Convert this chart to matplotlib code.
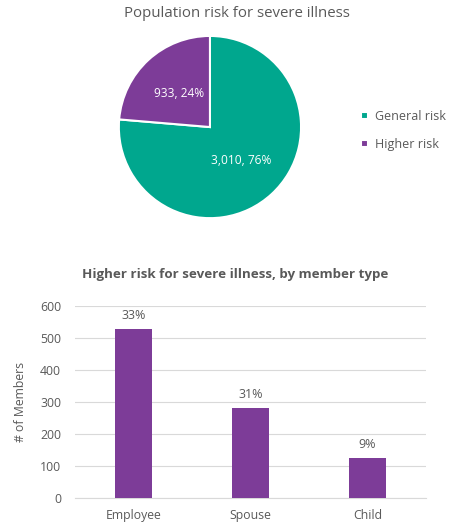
import matplotlib.pyplot as plt

plt.rcParams['font.family'] = ['Open Sans', 'DejaVu Sans']

# datos del pastel
riesgo_labels = ['General risk', 'Higher risk']
riesgo_valores = [3010, 933]

# datos de las barras
tipos_miembro = ['Employee', 'Spouse', 'Child']
miembros_riesgo = [527, 282, 124]
pct_riesgo = ['33%', '31%', '9%']

verde = '#00A78E'
morado = '#7D3C98'
gris_texto = '#595959'

fig = plt.figure(figsize=(4.49, 5.25), dpi=100)

# ---- pastel ----
ax1 = fig.add_axes([0.2606, 0.581, 0.414, 0.354])
total = sum(riesgo_valores)

def etiqueta(pct):
    val = int(round(pct * total / 100.0))
    return '{:,}, {:.0f}%'.format(val, pct)

wedges, textos, autotextos = ax1.pie(
    riesgo_valores, colors=[verde, morado], startangle=90, counterclock=False,
    autopct=etiqueta, pctdistance=0.5, radius=1,
    wedgeprops=dict(edgecolor='white', linewidth=1.5),
    textprops=dict(color='white', fontsize=8.6))
ax1.set_xlim(-1.02, 1.02)
ax1.set_ylim(-1.02, 1.02)
ax1.set_aspect('equal')
fig.text(0.527, 0.975, 'Population risk for severe illness', ha='center', va='center',
         fontsize=10.8, color=gris_texto)

leg = fig.legend(wedges, riesgo_labels, loc='center left', bbox_to_anchor=(0.78, 0.752),
                 frameon=False, handlelength=0.55, handleheight=0.55, handletextpad=0.5,
                 labelspacing=1.2, fontsize=9)
for t in leg.get_texts():
    t.set_color(gris_texto)

# ---- barras ----
ax2 = fig.add_axes([0.167, 0.052, 0.782, 0.365])
pos = range(len(tipos_miembro))
barras = ax2.bar(pos, miembros_riesgo, width=0.32, color=morado, zorder=3)
for b, p in zip(barras, pct_riesgo):
    ax2.text(b.get_x() + b.get_width() / 2, b.get_height() + 22, p,
             ha='center', va='bottom', fontsize=9, color=gris_texto)

ax2.set_xlim(-0.5, 2.5)
ax2.set_ylim(0, 600)
ax2.set_yticks(range(0, 601, 100))
ax2.set_xticks(list(pos))
ax2.set_xticklabels(tipos_miembro)
ax2.grid(axis='y', color='#D9D9D9', linewidth=0.8, zorder=0)
for s in ['top', 'right', 'left']:
    ax2.spines[s].set_visible(False)
ax2.spines['bottom'].set_color('#D9D9D9')
ax2.tick_params(axis='y', length=0, labelsize=8.8, colors=gris_texto, pad=10)
ax2.tick_params(axis='x', length=0, labelsize=8.8, colors=gris_texto, pad=8)
ax2.set_ylabel('# of Members', fontsize=8.8, color=gris_texto, labelpad=9)
fig.text(0.524, 0.477, 'Higher risk for severe illness, by member type', ha='center',
         va='center', fontsize=9.6, fontweight='bold', color=gris_texto)

fig.savefig('out.png', dpi=100)
